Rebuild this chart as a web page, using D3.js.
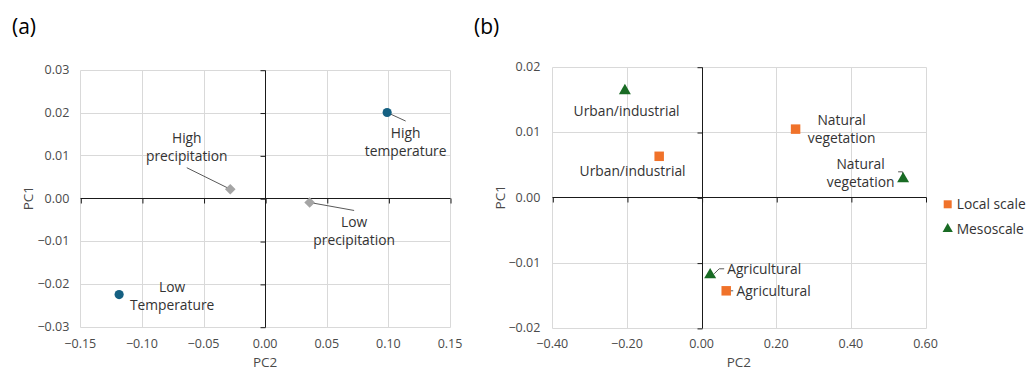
<!DOCTYPE html>
<html>
<head>
<meta charset="utf-8">
<script src="https://cdn.jsdelivr.net/npm/d3@7"></script>
<style>
  html, body { margin: 0; padding: 0; background: #fff; }
  svg { display: block; }
  text { font-family: "Open Sans", "Liberation Sans", sans-serif; }
</style>
</head>
<body>
<svg id="chart" width="1030" height="370"></svg>
<script>
// ---------- Data: panel (a) ----------
const aNames  = ["High temperature", "Low Temperature", "High precipitation", "Low precipitation"];
const aGroup  = ["temperature", "temperature", "precipitation", "precipitation"];
const aPC2    = [0.099, -0.1185, -0.0283, 0.0361];
const aPC1    = [0.0200, -0.0225, 0.0021, -0.0010];
const aXTicks = [-0.15, -0.10, -0.05, 0.00, 0.05, 0.10, 0.15];
const aYTicks = [-0.03, -0.02, -0.01, 0.00, 0.01, 0.02, 0.03];

// ---------- Data: panel (b) ----------
const bNames  = ["Urban/industrial", "Urban/industrial", "Natural vegetation", "Natural vegetation", "Agricultural", "Agricultural"];
const bSeries = ["Mesoscale", "Local scale", "Local scale", "Mesoscale", "Mesoscale", "Local scale"];
const bPC2    = [-0.2055, -0.1136, 0.2519, 0.540, 0.023, 0.066];
const bPC1    = [0.01632, 0.00628, 0.01044, 0.00283, -0.01187, -0.01432];
const bXTicks = [-0.40, -0.20, 0.00, 0.20, 0.40, 0.60];
const bYTicks = [-0.02, -0.01, 0.00, 0.01, 0.02];
const legendItems = ["Local scale", "Mesoscale"];

// ---------- Styling / label layout (pixels) ----------
const colors = { temperature: "#156082", precipitation: "#A5A5A5", "Local scale": "#F0722A", "Mesoscale": "#196B24" };
const GRID = "#D9D9D9", AXIS = "#1a1a1a", TICKTXT = "#4a4a4a", LABTXT = "#333333";
const TICKFS = 12.5, LABFS = 13.8, LINEH = 18;

// label lines, offset of first line centre from point, leader polyline (relative to point)
const aLabelLayout = [
  { lines: ["High", "temperature"],   dx: 18.5, dy: 21,   anchor: "middle", leader: [[0,0],[18.5,8.5]] },
  { lines: ["Low", "Temperature"],    dx: 53,   dy: -7.5, anchor: "middle", leader: null },
  { lines: ["High", "precipitation"], dx: -43.5,dy: -51,  anchor: "middle", leader: [[0,0],[-43.5,-21.5]] },
  { lines: ["Low", "precipitation"],  dx: 44.5, dy: 19.5, anchor: "middle", leader: [[0,0],[44.5,8]] }
];
const bLabelLayout = [
  { lines: ["Urban/industrial"],      dx: 1.7,  dy: 20,   anchor: "middle", leader: null },
  { lines: ["Urban/industrial"],      dx: -26.6,dy: 15,   anchor: "middle", leader: null },
  { lines: ["Natural", "vegetation"], dx: 46,   dy: -8.5, anchor: "middle", leader: null },
  { lines: ["Natural", "vegetation"], dx: -42.5,dy: -15,  anchor: "middle", leader: [[-5,-7],[-0.5,-7],[-0.5,-3]] },
  { lines: ["Agricultural"],          dx: 17,   dy: -6,   anchor: "start",  leader: [[4,-1],[9,-6],[14,-6]] },
  { lines: ["Agricultural"],          dx: 10.4, dy: 0.5,  anchor: "start",  leader: [[2.5,0],[7,0]] }
];

const svg = d3.select("#chart");
const fmt2 = d3.format(".2f");

function drawPanel(cfg) {
  const g = svg.append("g");
  const x = d3.scaleLinear().domain(cfg.xDomain).range([cfg.left, cfg.right]);
  const y = d3.scaleLinear().domain(cfg.yDomain).range([cfg.bottom, cfg.top]);
  const px = v => Math.round(x(v)) + 0.5;
  const py = v => Math.round(y(v)) + 0.5;

  // gridlines
  g.append("g").selectAll("line").data(cfg.xTicks).join("line")
    .attr("x1", d => px(d)).attr("x2", d => px(d))
    .attr("y1", py(cfg.yDomain[1])).attr("y2", py(cfg.yDomain[0]))
    .attr("stroke", GRID).attr("stroke-width", 1);
  g.append("g").selectAll("line").data(cfg.yTicks).join("line")
    .attr("y1", d => py(d)).attr("y2", d => py(d))
    .attr("x1", px(cfg.xDomain[0])).attr("x2", px(cfg.xDomain[1]))
    .attr("stroke", GRID).attr("stroke-width", 1);

  // zero axes: tick marks via d3 axes, lines drawn across the plot
  const xAxis = d3.axisBottom(x).tickValues(cfg.xTicks).tickSize(5).tickFormat("");
  const gx = g.append("g").attr("transform", `translate(0.5,${Math.round(y(0)) + 0.5})`).call(xAxis);
  const yAxis = d3.axisLeft(y).tickValues(cfg.yTicks).tickSize(5).tickFormat("");
  const gy = g.append("g").attr("transform", `translate(${Math.round(x(0)) + 0.5},0.5)`).call(yAxis);
  [gx, gy].forEach(a => {
    a.select(".domain").remove();
    a.selectAll(".tick line").attr("stroke", AXIS);
  });
  g.append("line").attr("x1", px(cfg.xDomain[0])).attr("x2", px(cfg.xDomain[1]))
    .attr("y1", py(0)).attr("y2", py(0)).attr("stroke", AXIS);
  g.append("line").attr("x1", px(0)).attr("x2", px(0))
    .attr("y1", py(cfg.yDomain[1])).attr("y2", py(cfg.yDomain[0])).attr("stroke", AXIS);

  // tick labels at plot edges
  g.append("g").selectAll("text").data(cfg.xTicks).join("text")
    .attr("x", d => x(d)).attr("y", 343.5).attr("dy", "0.35em")
    .attr("text-anchor", "middle").attr("font-size", TICKFS).attr("fill", TICKTXT)
    .text(d => fmt2(d));
  g.append("g").selectAll("text").data(cfg.yTicks).join("text")
    .attr("x", cfg.left - cfg.yLabGap).attr("y", d => y(d)).attr("dy", "0.35em")
    .attr("text-anchor", "end").attr("font-size", TICKFS).attr("fill", TICKTXT)
    .text(d => fmt2(d));

  // axis titles
  g.append("text").attr("x", (cfg.left + cfg.right) / 2).attr("y", 362.5).attr("dy", "0.35em")
    .attr("text-anchor", "middle").attr("font-size", 13.5).attr("fill", TICKTXT).text("PC2");
  g.append("text").attr("transform", `translate(${cfg.yTitleX},${(cfg.top + cfg.bottom) / 2}) rotate(-90)`)
    .attr("dy", "0.35em").attr("text-anchor", "middle").attr("font-size", 13.5).attr("fill", TICKTXT).text("PC1");

  // panel letter
  g.append("text").attr("x", cfg.letterX).attr("y", 34).attr("font-size", 21).attr("fill", "#000").text(cfg.letter);

  return { g, x, y };
}

function drawLabels(g, pts, layout) {
  pts.forEach((p, i) => {
    const L = layout[i];
    if (L.leader) {
      g.append("path")
        .attr("d", d3.line()(L.leader.map(([dx, dy]) => [p.cx + dx, p.cy + dy])))
        .attr("fill", "none").attr("stroke", "#595959").attr("stroke-width", 1);
    }
  });
  pts.forEach((p, i) => {
    const L = layout[i];
    const t = g.append("text").attr("font-size", LABFS).attr("fill", LABTXT).attr("text-anchor", L.anchor);
    L.lines.forEach((ln, k) => {
      t.append("tspan").attr("x", p.cx + L.dx).attr("y", p.cy + L.dy + k * LINEH).attr("dy", "0.35em").text(ln);
    });
  });
}

// ---------- Panel (a) ----------
const A = drawPanel({
  xDomain: [-0.15, 0.15], yDomain: [-0.03, 0.03],
  left: 80.3, right: 450, top: 69.7, bottom: 326.7,
  xTicks: aXTicks, yTicks: aYTicks, yLabGap: 11, yTitleX: 28, letter: "(a)", letterX: 12
});
const aPts = aNames.map((n, i) => ({ cx: A.x(aPC2[i]), cy: A.y(aPC1[i]), group: aGroup[i] }));
drawLabels(A.g, aPts, aLabelLayout);
const sym = d3.symbol();
A.g.append("g").selectAll("path").data(aPts).join("path")
  .attr("transform", d => `translate(${d.cx},${d.cy})`)
  .attr("d", d => d.group === "temperature" ? sym.type(d3.symbolCircle).size(66)() : sym.type(d3.symbolDiamond2).size(72)())
  .attr("fill", d => colors[d.group]);

// ---------- Panel (b) ----------
const B = drawPanel({
  xDomain: [-0.4, 0.6], yDomain: [-0.02, 0.02],
  left: 552.3, right: 925.5, top: 66.7, bottom: 327.9,
  xTicks: bXTicks, yTicks: bYTicks, yLabGap: 12, yTitleX: 500, letter: "(b)", letterX: 474
});
const bPts = bNames.map((n, i) => ({ cx: B.x(bPC2[i]), cy: B.y(bPC1[i]), series: bSeries[i] }));
drawLabels(B.g, bPts, bLabelLayout);
function markerPath(series) {
  return series === "Local scale" ? d3.symbol().type(d3.symbolSquare).size(90)()
                                  : d3.symbol().type(d3.symbolTriangle).size(62)();
}
B.g.append("g").selectAll("path").data(bPts).join("path")
  .attr("transform", d => `translate(${d.cx},${d.cy})`)
  .attr("d", d => markerPath(d.series))
  .attr("fill", d => colors[d.series]);

// legend
const leg = svg.append("g").selectAll("g").data(legendItems).join("g")
  .attr("transform", (d, i) => `translate(947.7,${204.3 + i * 24.7})`);
leg.append("path").attr("d", d => d === "Local scale" ? d3.symbol().type(d3.symbolSquare).size(64)() : d3.symbol().type(d3.symbolTriangle).size(45)())
  .attr("fill", d => colors[d]);
leg.append("text").attr("x", 9).attr("dy", "0.35em").attr("font-size", LABFS).attr("fill", LABTXT).text(d => d);
</script>
</body>
</html>
